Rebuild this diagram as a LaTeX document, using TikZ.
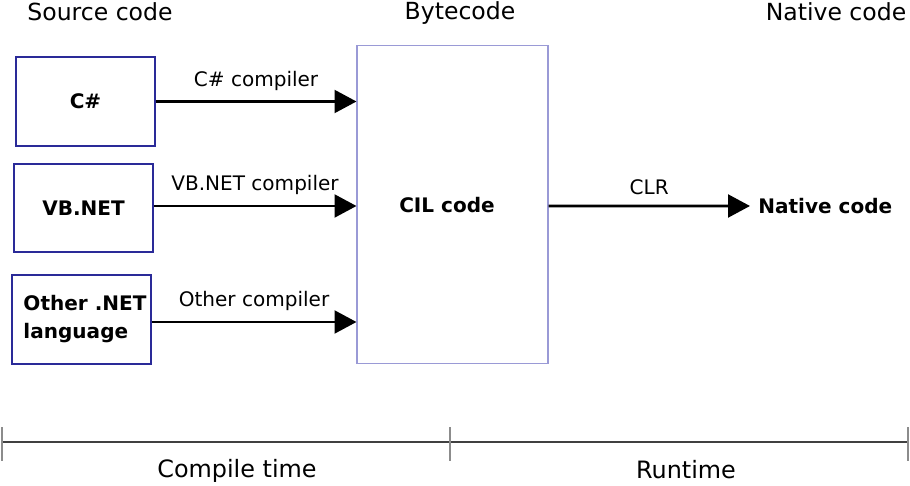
\documentclass[tikz,border=0pt]{standalone}
\usepackage{fontspec}
\setmainfont{DejaVu Sans}
\usepackage{xcolor}
\usetikzlibrary{positioning,arrows.meta,calc}

\definecolor{boxblue}{HTML}{2A2A98}
\definecolor{cilblue}{HTML}{9A9AD6}

\begin{document}
\begin{tikzpicture}[
  x=0.02cm, y=-0.02cm,
  src/.style={draw=boxblue, line width=1pt, minimum width=139*0.567pt,
              minimum height=89*0.567pt, align=center, inner sep=0pt,
              font=\fontsize{11.4}{15.5}\selectfont\bfseries},
  cil/.style={draw=cilblue, line width=1pt, minimum width=191*0.567pt,
              minimum height=319*0.567pt, inner sep=0pt},
  word/.style={font=\fontsize{11.4}{15.5}\selectfont\bfseries, inner sep=0pt},
  comp/.style={-{Triangle[length=12.5pt, width=13pt]}, line width=1.5pt},
  tag/.style={font=\fontsize{11.4}{13.5}\selectfont, inner sep=0pt, above=5.5pt},
  head/.style={font=\fontsize{13.4}{16}\selectfont, inner sep=0pt},
  axis/.style={line width=0.7pt, black!75},
  tick/.style={line width=0.8pt, black!45},
]
\useasboundingbox (0,0) rectangle (910,486);

% ================= column titles =================
\node[head] (tsrc) at (100,12) {Source code};
\node[head] (tbyte) at (460,13) {Bytecode};
\node[head] (tnat) at (836,12) {Native code};

% ================= source languages =================
\node[src] (cs)  at (85.5,101.5) {C\#};
\node[src] (vb)  at (83.5,208)   {VB.NET};
\node[src] (oth) at (81.5,319.5) {};
\node[word, align=left] (othtxt) at (85,319) {Other .NET\\language};

\node[cil] (il) at (452.5,204.5) {};
\node[word] (iltxt) at (447,205.5) {CIL code};

% compilers into CIL
\draw[comp] (cs.east) -- (cs.east -| il.west)
  node[midway, tag] {C\# compiler};
\draw[comp] ($(vb.east)+(0,-2)$) -- ($(vb.east -| il.west)+(0,-2)$)
  node[midway, tag] {VB.NET compiler};
\draw[comp] ($(oth.east)+(0,2.5)$) -- ($(oth.east -| il.west)+(0,2.5)$)
  node[midway, tag] {Other compiler};

% ================= runtime =================
\node[word, anchor=west] (nat) at (758,206) {Native code};
\draw[comp] ($(il.east)+(0,1.5)$) -- ($(nat.west)+(-8,0)$)
  node[midway, tag] {CLR};

% ================= time line =================
\coordinate (t0) at (2,442);
\coordinate (t1) at (450,442);
\coordinate (t2) at (908,442);
\draw[axis] (t0) -- (t2);
\foreach \t in {t0,t1,t2}
  \draw[tick] ($(\t)+(0,-15)$) -- ($(\t)+(0,19)$);

\node[head, font=\fontsize{13.6}{16}\selectfont] (ct) at (237,471) {Compile time};
\node[head, font=\fontsize{13.6}{16}\selectfont] (rt) at (686,470) {Runtime};

\end{tikzpicture}
\end{document}
